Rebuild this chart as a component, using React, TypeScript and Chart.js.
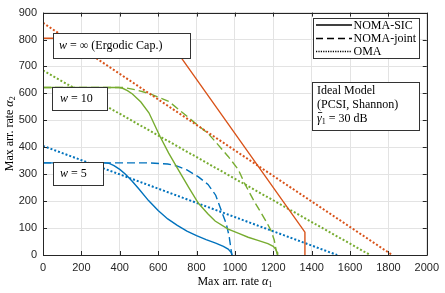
import React, { useEffect, useRef } from "react";
import { Chart, registerables } from "chart.js";

Chart.register(...registerables);

// ---- Data ----
const xTicks = [0, 200, 400, 600, 800, 1000, 1200, 1400, 1600, 1800, 2000];
const yTicks = [0, 100, 200, 300, 400, 500, 600, 700, 800, 900];

// w = ∞ (Ergodic capacity)
const ergSicX = [0, 648, 1365, 1365];
const ergSicY = [805, 805, 85, 0];
const ergOmaX = [0, 1820];
const ergOmaY = [862, 0];

// w = 10
const w10SicX = [0, 395, 415, 440, 466, 510, 552, 610, 655, 707, 760, 810, 860, 897, 965, 1020, 1069, 1120, 1172, 1200, 1212, 1220, 1223];
const w10SicY = [622, 622, 619, 610, 598, 568, 528, 440, 378, 314, 250, 192, 152, 126, 96, 80, 66, 54, 42, 32, 22, 10, 0];
const w10JointX = [0, 420, 480, 552, 656, 759, 862, 914, 965, 1017, 1052, 1100, 1137, 1165, 1189, 1205, 1215, 1222];
const w10JointY = [622, 622, 614, 600, 570, 510, 450, 408, 366, 318, 264, 200, 156, 122, 90, 56, 18, 0];
const w10OmaX = [0, 1705];
const w10OmaY = [685, 0];

// w = 5
const w5SicX = [0, 320, 345, 370, 400, 430, 465, 500, 550, 600, 650, 700, 750, 800, 850, 900, 940, 965, 980, 985];
const w5SicY = [342, 342, 340, 332, 318, 300, 274, 245, 202, 165, 134, 110, 89, 72, 57, 44, 32, 22, 10, 0];
const w5JointX = [0, 550, 650, 700, 750, 810, 860, 900, 930, 955, 970, 980, 985];
const w5JointY = [342, 342, 338, 330, 316, 290, 262, 222, 164, 116, 70, 20, 0];
const w5OmaX = [0, 1533];
const w5OmaY = [405, 0];

const RED = "#D95319";
const GREEN = "#77AC30";
const BLUE = "#0072BD";
const AXIS = "#262626";
const SERIF = "'Liberation Serif', 'DejaVu Serif', serif";
const SANS = "'Liberation Sans', Arial, sans-serif";

const zip = (xs: number[], ys: number[]) => xs.map((x, i) => ({ x, y: ys[i] }));

const DOT = [2, 2];
const DASH = [8, 4];

function ds(xs: number[], ys: number[], color: string, style: "solid" | "dash" | "dot") {
  return {
    data: zip(xs, ys),
    borderColor: color,
    borderWidth: style === "dot" ? 2 : 1.4,
    borderDash: style === "solid" ? [] : style === "dash" ? DASH : DOT,
    pointRadius: 0,
    fill: false,
    tension: 0,
  };
}

const overlay = {
  id: "overlay",
  afterDraw(chart: any) {
    const ctx = chart.ctx as CanvasRenderingContext2D;
    const { left, right, top, bottom } = chart.chartArea;
    const xs = chart.scales.x;
    const ys = chart.scales.y;
    ctx.save();
    // box
    ctx.strokeStyle = AXIS;
    ctx.lineWidth = 1;
    ctx.beginPath();
    ctx.rect(Math.round(left) + 0.5, Math.round(top) + 0.5, Math.round(right - left), Math.round(bottom - top));
    ctx.stroke();
    // inward ticks
    const tl = 4;
    ctx.beginPath();
    xTicks.forEach((v) => {
      const px = Math.round(xs.getPixelForValue(v)) + 0.5;
      ctx.moveTo(px, bottom);
      ctx.lineTo(px, bottom - tl);
      ctx.moveTo(px, top);
      ctx.lineTo(px, top + tl);
    });
    yTicks.forEach((v) => {
      const py = Math.round(ys.getPixelForValue(v)) + 0.5;
      ctx.moveTo(left, py);
      ctx.lineTo(left + tl, py);
      ctx.moveTo(right, py);
      ctx.lineTo(right - tl, py);
    });
    ctx.stroke();

    // axis titles
    ctx.fillStyle = "#000";
    ctx.textBaseline = "middle";
    const drawTitle = (main: string, sub: string, cx: number, cy: number) => {
      ctx.font = `12px ${SERIF}`;
      const w1 = ctx.measureText(main).width;
      ctx.font = `italic 12px ${SERIF}`;
      const wa = ctx.measureText("α").width;
      ctx.font = `8px ${SERIF}`;
      const ws = ctx.measureText(sub).width;
      const total = w1 + wa + ws;
      const x0 = cx - total / 2;
      ctx.textAlign = "left";
      ctx.font = `12px ${SERIF}`;
      ctx.fillText(main, x0, cy);
      ctx.font = `italic 12px ${SERIF}`;
      ctx.fillText("α", x0 + w1, cy);
      ctx.font = `8px ${SERIF}`;
      ctx.fillText(sub, x0 + w1 + wa, cy + 3);
    };
    drawTitle("Max arr. rate ", "1", (left + right) / 2, 282);
    ctx.save();
    ctx.translate(10, (top + bottom) / 2);
    ctx.rotate(-Math.PI / 2);
    drawTitle("Max arr. rate ", "2", 0, 0);
    ctx.restore();

    // text box helper
    const box = (x: number, y: number, w: number, h: number) => {
      ctx.fillStyle = "#fff";
      ctx.fillRect(x, y, w, h);
      ctx.strokeStyle = "#333";
      ctx.lineWidth = 1;
      ctx.strokeRect(x + 0.5, y + 0.5, w, h);
    };
    const wLabel = (x: number, cy: number, rest: string) => {
      ctx.fillStyle = "#000";
      ctx.textAlign = "left";
      ctx.textBaseline = "middle";
      ctx.font = `italic 12px ${SERIF}`;
      ctx.fillText("w", x, cy);
      const ww = ctx.measureText("w").width;
      ctx.font = `12px ${SERIF}`;
      ctx.fillText(rest, x + ww, cy);
    };
    box(53, 33, 137, 25);
    wLabel(59, 46, " = ∞ (Ergodic Cap.)");
    box(52, 87, 55, 23);
    wLabel(60, 99, " = 10");
    box(53, 162, 50, 23);
    wLabel(60, 173.5, " = 5");

    // legend
    box(313, 18, 106, 40);
    const leg: [string, number[], number][] = [
      ["NOMA-SIC", [], 25],
      ["NOMA-joint", [7, 4], 38.5],
      ["OMA", [1.2, 1.2], 51.5],
    ];
    leg.forEach(([label, dash, y]) => {
      ctx.strokeStyle = "#000";
      ctx.lineWidth = 1.3;
      ctx.setLineDash(dash);
      ctx.beginPath();
      ctx.moveTo(316, y);
      ctx.lineTo(352, y);
      ctx.stroke();
      ctx.setLineDash([]);
      ctx.fillStyle = "#000";
      ctx.font = `12px ${SERIF}`;
      ctx.textAlign = "left";
      ctx.textBaseline = "middle";
      ctx.fillText(label, 353.5, y + 0.5);
    });

    // info box
    box(312, 82, 107, 48);
    ctx.fillStyle = "#000";
    ctx.font = `12px ${SERIF}`;
    ctx.textAlign = "left";
    ctx.textBaseline = "middle";
    ctx.fillText("Ideal Model", 317, 90.5);
    ctx.fillText("(PCSI, Shannon)", 317, 104.5);
    ctx.font = `italic 12px ${SERIF}`;
    ctx.fillText("γ", 317, 118.5);
    const wg = ctx.measureText("γ").width;
    ctx.strokeStyle = "#000";
    ctx.lineWidth = 0.8;
    ctx.beginPath();
    ctx.moveTo(318, 112.5);
    ctx.lineTo(317 + wg + 0.5, 112.5);
    ctx.stroke();
    ctx.font = `8px ${SERIF}`;
    ctx.fillText("1", 317 + wg, 121.5);
    const w1 = ctx.measureText("1").width;
    ctx.font = `12px ${SERIF}`;
    ctx.fillText(" = 30 dB", 317 + wg + w1, 118.5);

    ctx.restore();
  },
};

export default function App() {
  const ref = useRef<HTMLCanvasElement | null>(null);
  useEffect(() => {
    document.body.style.margin = "0";
    const canvas = ref.current!;
    const chart = new Chart(canvas, {
      type: "line",
      data: {
        datasets: [
          ds(ergOmaX, ergOmaY, RED, "dot"),
          ds(ergSicX, ergSicY, RED, "solid"),
          ds(w10OmaX, w10OmaY, GREEN, "dot"),
          ds(w10JointX, w10JointY, GREEN, "dash"),
          ds(w10SicX, w10SicY, GREEN, "solid"),
          ds(w5OmaX, w5OmaY, BLUE, "dot"),
          ds(w5JointX, w5JointY, BLUE, "dash"),
          ds(w5SicX, w5SicY, BLUE, "solid"),
        ] as any,
      },
      options: {
        animation: false,
        responsive: false,
        maintainAspectRatio: false,
        layout: { padding: { left: 0, right: 14, top: 5, bottom: 0 } },
        plugins: { legend: { display: false }, tooltip: { enabled: false } },
        scales: {
          x: {
            type: "linear",
            min: 0,
            max: 2000,
            afterBuildTicks: (s: any) => {
              s.ticks = xTicks.map((v) => ({ value: v }));
            },
            ticks: {
              font: { family: SANS, size: 11 },
              color: AXIS,
              maxRotation: 0,
              autoSkip: false,
              padding: 6,
              callback: (v: any) => String(v),
            },
            grid: { color: "#e3e3e3", drawTicks: false },
            border: { display: false },
            afterFit: (s: any) => {
              s.height = 38;
            },
          },
          y: {
            type: "linear",
            min: 0,
            max: 900,
            afterBuildTicks: (s: any) => {
              s.ticks = yTicks.map((v) => ({ value: v }));
            },
            ticks: {
              font: { family: SANS, size: 11 },
              color: AXIS,
              autoSkip: false,
              padding: 6,
              callback: (v: any) => String(v),
            },
            grid: { color: "#e3e3e3", drawTicks: false },
            border: { display: false },
            afterFit: (s: any) => {
              s.width = 43;
            },
          },
        },
      },
      plugins: [overlay],
    });
    return () => chart.destroy();
  }, []);
  return (
    <div style={{ position: "absolute", left: 0, top: 0, width: 445, height: 293, background: "#fff" }}>
      <canvas ref={ref} width={445} height={293} style={{ width: 445, height: 293 }} />
    </div>
  );
}
